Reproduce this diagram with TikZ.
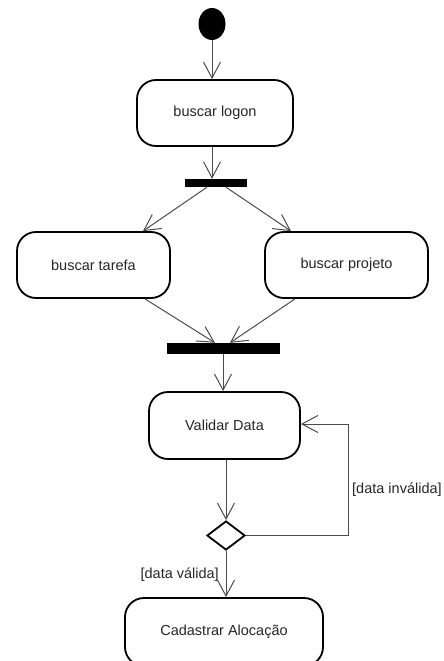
\documentclass[tikz,border=0pt]{standalone}
\usepackage{fontspec}
\setmainfont{Liberation Sans}
\usetikzlibrary{arrows.meta,shapes.geometric,calc}
\begin{document}
\begin{tikzpicture}[x=1pt,y=-1pt,
  font=\fontsize{14.5}{16}\selectfont,
  action/.style={draw=black,line width=1.8pt,rounded corners=19pt,fill=white,
    text=black!85,inner sep=0pt},
  bar/.style={fill=black,draw=none,inner sep=0pt},
  flow/.style={draw=black!70,line width=1pt,
    -{Straight Barb[length=16pt,width=17pt,line width=1pt]}},
  guard/.style={text=black!85,inner sep=0pt}]
\useasboundingbox (0,0) rectangle (444,661);
\clip (0,0) rectangle (444,661);

% initial node
\node[ellipse,fill=black,inner sep=0pt,minimum width=27pt,minimum height=32pt] (start) at (212,24) {};

% actions
\node[action,minimum width=156pt,minimum height=66pt] (logon) at (215,113) {buscar logon};
\node[action,minimum width=153pt,minimum height=66pt] (tarefa) at (93.5,265) {buscar tarefa};
\node[action,minimum width=163pt,minimum height=66pt] (projeto) at (346.5,265) {buscar projeto};
\node[action,minimum width=151pt,minimum height=67pt] (validar) at (224.5,425.5) {Validar Data};
\node[action,minimum width=198pt,minimum height=68pt] (cadastrar) at (224,632) {Cadastrar Alocação};

% fork and join bars
\node[bar,minimum width=62pt,minimum height=8pt] (fork) at (216,183) {};
\node[bar,minimum width=113pt,minimum height=11pt] (join) at (223.5,348.5) {};

% decision
\node[diamond,draw=black,line width=1.8pt,fill=white,inner sep=0pt,aspect=1.3,
  minimum width=38pt,minimum height=29pt] (dec) at (226,535.5) {};

% loop-back corner
\coordinate (loopc) at (348,424);

% flows
\draw[flow] (start.south) -- (start.south |- logon.north);
\draw[flow] (logon.south -| start) -- (fork.north -| start);
\draw[flow] ($(fork.south)+(-9,0)$) -- ($(tarefa.north)+(49.5,0)$);
\draw[flow] ($(fork.south)+(10,0)$) -- ($(projeto.north)+(-55.5,0)$);
\draw[flow] ($(tarefa.south)+(51.5,0)$) -- ($(join.north)+(-8.5,0)$);
\draw[flow] ($(projeto.south)+(-51.5,0)$) -- ($(join.north)+(6.5,0)$);
\draw[flow] (join.south -| 223,0) -- (validar.north -| 223,0);
\draw[flow] (validar.south -| dec) -- (dec.north);
\draw[flow] (dec.east) -- (dec.east -| loopc) -- (loopc) -- (loopc -| validar.east);
\draw[flow] (dec.south) -- (cadastrar.north -| dec);

% guards
\node[guard,anchor=west] (ginv) at (352,490) {[data inválida]};
\node[guard,anchor=east] (gval) at (219,575) {[data válida]};
\end{tikzpicture}
\end{document}
